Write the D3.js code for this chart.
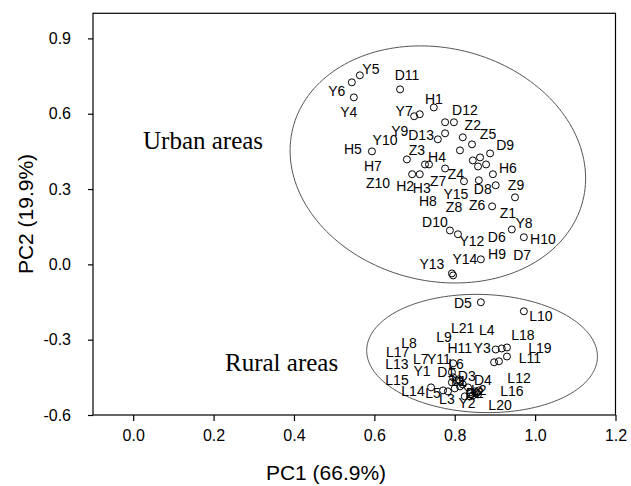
<!DOCTYPE html>
<html><head><meta charset="utf-8">
<script src="https://cdn.jsdelivr.net/npm/d3@7"></script>
<style>body{margin:0;background:#fff}</style>
</head><body><svg id="c" width="631" height="486"></svg>
<script>
// ---------- data ----------
const urbanNames = ["Y5","Y6","Y4","D11","H1","Y7","Y9","Y10","D12","D13","H7","Z2","Z5","H8","D9","D6","H9","Z8","Y8","H6","Z7","Z4","Y15","D8","Z9","Z6","H5","Z3","H4","Z10","H2","H3","D10","Y12","Z1","H10","Y14","Y13","D7"];
const urbanPC1 = [0.564,0.544,0.549,0.664,0.748,0.699,0.713,0.776,0.798,0.776,0.758,0.820,0.843,0.813,0.888,0.845,0.863,0.858,0.878,0.895,0.776,0.823,0.860,0.902,0.950,0.893,0.594,0.681,0.726,0.736,0.694,0.713,0.788,0.808,0.942,0.972,0.865,0.793,0.796];
const urbanPC2 = [0.753,0.725,0.665,0.697,0.625,0.590,0.598,0.566,0.566,0.522,0.498,0.506,0.478,0.454,0.442,0.414,0.426,0.390,0.398,0.359,0.382,0.331,0.335,0.315,0.267,0.231,0.450,0.418,0.398,0.398,0.359,0.359,0.135,0.120,0.139,0.108,0.020,-0.036,-0.044];

const ruralNames = ["D5","L10","H11","L4","L18","L19","Y3","L11","L6","L9","L14","L5","L3","D1","L21","L7","Y11","D3","Y1","L15","L1","Y2","L12","L16","L20","D4","D2","L17","L13","L2","L8"];
const ruralPC1 = [0.865,0.972,0.902,0.917,0.930,0.930,0.898,0.910,0.796,0.793,0.741,0.771,0.783,0.796,0.805,0.810,0.813,0.820,0.833,0.838,0.825,0.838,0.853,0.855,0.858,0.860,0.845,0.800,0.813,0.850,0.793];
const ruralPC2 = [-0.151,-0.187,-0.339,-0.335,-0.331,-0.367,-0.390,-0.386,-0.394,-0.430,-0.490,-0.502,-0.506,-0.450,-0.462,-0.458,-0.466,-0.478,-0.490,-0.510,-0.526,-0.526,-0.514,-0.510,-0.518,-0.502,-0.522,-0.494,-0.486,-0.506,-0.470];

const groupLabels = ["Urban areas","Rural areas"];
// ellipses: center, major-axis vector, minor-axis vector (data units)
const ellipseCenter = [[0.758,0.398],[0.868,-0.355]];
const ellipseMajor = [[0.361,-0.143],[0.287,-0.016]];
const ellipseMinor = [[-0.0695,-0.450],[-0.0051,-0.235]];

const xTicks = [0.0,0.2,0.4,0.6,0.8,1.0,1.2];
const yTicks = [-0.6,-0.3,0.0,0.3,0.6,0.9];
const xTitle = "PC1 (66.9%)";
const yTitle = "PC2 (19.9%)";

// ---------- layout (label offsets in px) ----------
const labelOffset = {
 Y5:[11,-6],Y6:[-15,9],Y4:[-5,15],D11:[7,-14],H1:[0,-8],Y7:[-10,-5],Y9:[-20,17],Y10:[-60,18],D12:[11,-12],D13:[-24,2],
 H7:[-65,27],Z2:[10,-12],Z5:[16,-10],H8:[-32,51],D9:[15,-8],D6:[24,77],H9:[17,97],Z8:[-24,41],Y8:[38,59],H6:[15,-6],
 Z7:[-7,13],Z4:[-8,-7],Y15:[-23,14],D8:[-13,4],Z9:[1,-12],Z6:[-15,-1],H5:[-19,-2],Z3:[10,-9],H4:[12,-7],Z10:[-51,19],
 H2:[-7,12],H3:[2,14],D10:[-15,-8],Y12:[14,7],Z1:[-4,-16],H10:[19,2],Y14:[-16,0],Y13:[-20,-9],D7:[69,-20],
 D5:[-18,1],L10:[17,5],H11:[-36,-1],L4:[-15,-18],L18:[16,-12],L19:[33,-9],Y3:[-12,-14],L11:[31,-3],L6:[3,1],L9:[-8,-35],
 L14:[-18,4],L5:[-10,3],L3:[-1,8],D1:[-7,-5],L21:[6,-52],L7:[-38,-20],Y11:[-21,-22],D3:[4,-8],Y1:[-46,-16],L15:[-73,-12],
 L1:[-6,-15],Y2:[-3,7],L12:[43,-15],L16:[35,-1],L20:[22,11],D4:[4,-10],D2:[2,-2],L17:[-57,-36],L13:[-63,-22],L2:[4,-1],L8:[-43,-39]
};

const plot = {left:93, right:615.5, top:13.3, bottom:415};
const sans = "'Liberation Sans', Arial, Helvetica, sans-serif";
const serif = "'Liberation Serif', 'Times New Roman', serif";

const svg = d3.select("#c");
const x = d3.scaleLinear().domain([-0.1,1.2]).range([plot.left, plot.right]);
const y = d3.scaleLinear().domain([-0.6,1.0]).range([plot.bottom, plot.top]);
const fmt = d => d3.format(".1f")(d).replace("\u2212","-");

// frame
svg.append("rect").attr("x",plot.left).attr("y",plot.top)
  .attr("width",plot.right-plot.left).attr("height",plot.bottom-plot.top)
  .attr("fill","none").attr("stroke","#000").attr("stroke-width",1.2);

// axes
const gx = svg.append("g").attr("transform",`translate(0,${plot.bottom})`)
  .call(d3.axisBottom(x).tickValues(xTicks).tickFormat(fmt).tickSizeInner(6).tickSizeOuter(0).tickPadding(9));
const gy = svg.append("g").attr("transform",`translate(${plot.left},0)`)
  .call(d3.axisLeft(y).tickValues(yTicks).tickFormat(fmt).tickSizeInner(5).tickSizeOuter(0).tickPadding(17));
[gx,gy].forEach(g=>{
  g.select(".domain").remove();
  g.selectAll("line").attr("stroke","#000").attr("stroke-width",1.2);
  g.selectAll("text").attr("font-family",sans).attr("font-size",16).attr("fill","#000");
});

// titles
svg.append("text").attr("x",326).attr("y",480).attr("text-anchor","middle")
  .attr("font-family",sans).attr("font-size",21).text(xTitle);
svg.append("text").attr("transform","translate(33,214) rotate(-90)").attr("text-anchor","middle")
  .attr("font-family",sans).attr("font-size",21).text(yTitle);

// ellipses
const ts = d3.range(0, 360, 2).map(d=>d*Math.PI/180);
ellipseCenter.forEach((c,i)=>{
  const ps = ts.map(t=>[
    x(c[0] + ellipseMajor[i][0]*Math.cos(t) + ellipseMinor[i][0]*Math.sin(t)),
    y(c[1] + ellipseMajor[i][1]*Math.cos(t) + ellipseMinor[i][1]*Math.sin(t))
  ]);
  svg.append("path").attr("d", d3.line().curve(d3.curveCardinalClosed)(ps))
    .attr("fill","none").attr("stroke","#555").attr("stroke-width",1);
});

// group labels
svg.append("text").attr("x",143).attr("y",149).attr("font-family",serif).attr("font-size",25).text(groupLabels[0]);
svg.append("text").attr("x",225).attr("y",371).attr("font-family",serif).attr("font-size",25).text(groupLabels[1]);

// points
const pts = urbanNames.map((n,i)=>({n, x:urbanPC1[i], y:urbanPC2[i]}))
  .concat(ruralNames.map((n,i)=>({n, x:ruralPC1[i], y:ruralPC2[i]})));

svg.append("g").selectAll("text").data(pts).join("text")
  .attr("x",d=>x(d.x)+labelOffset[d.n][0])
  .attr("y",d=>y(d.y)+labelOffset[d.n][1])
  .attr("text-anchor","middle").attr("dominant-baseline","central")
  .attr("font-family",sans).attr("font-size",14).attr("fill","#000")
  .text(d=>d.n);

svg.append("g").selectAll("circle").data(pts).join("circle")
  .attr("cx",d=>x(d.x)).attr("cy",d=>y(d.y)).attr("r",3.5)
  .attr("fill","none").attr("stroke","#000").attr("stroke-width",1);
</script>
</body></html>
